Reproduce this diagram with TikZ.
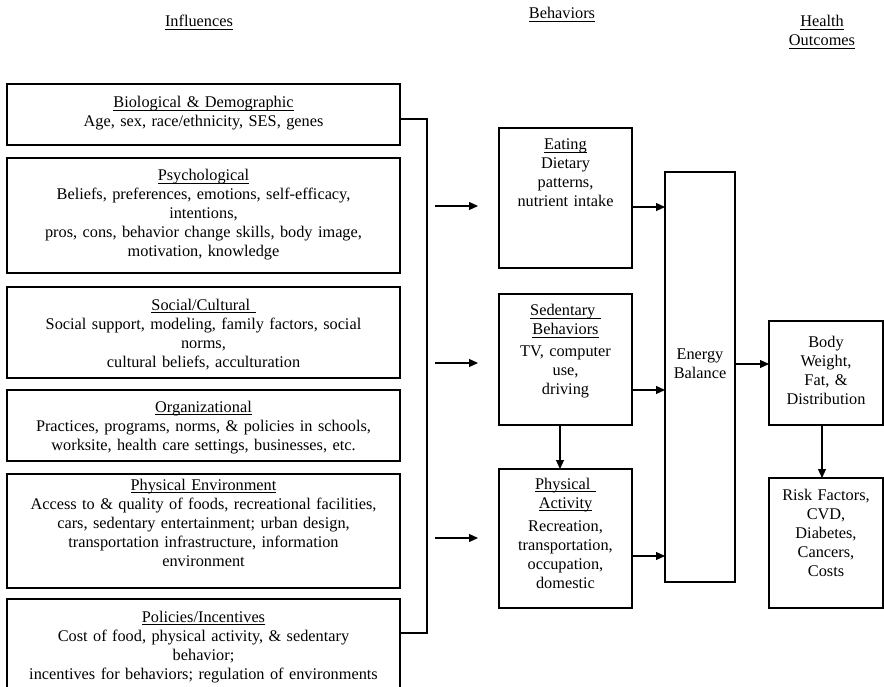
\documentclass[tikz,border=0pt]{standalone}
\usepackage{fontspec}
\setmainfont{Liberation Serif}
\usetikzlibrary{arrows.meta}
\newcommand\myul[1]{\leavevmode\setbox0\hbox{#1}\rlap{\rule[-2.6pt]{\wd0}{0.9pt}}\box0}
\newcommand\fsz{\fontsize{16.3}{19}\selectfont}
\begin{document}
\begin{tikzpicture}[x=1pt,y=-1pt,
  box/.style={draw, line width=1.2pt, rectangle, inner sep=0pt, outer sep=0pt},
  txt/.style={font=\fsz, align=center, anchor=base, inner sep=0pt, text width=#1},
  txt/.default=380pt,
  arr/.style={line width=1.2pt, -{Triangle[length=9pt,width=8pt]}},
  lnk/.style={line width=1.2pt}]
\useasboundingbox (0,0) rectangle (884,687);

% headers
\node[txt=200pt] (hinf) at (199,27) {\myul{Influences}};
\node[txt=200pt] (hbeh) at (562,19) {\myul{Behaviors}};
\node[txt=100pt] (hhe) at (822,27) {\myul{Health}\\\myul{Outcomes}};

% influences
\node[box, minimum width=393pt, minimum height=61pt] (bio) at (203.5,114.5) {};
\node[txt] (biot) at (203.5,108) {\myul{Biological \& Demographic}\\Age, sex, race/ethnicity, SES, genes};

\node[box, minimum width=393pt, minimum height=115pt] (psy) at (203.5,215.5) {};
\node[txt] (psyt) at (203.5,181) {\myul{Psychological}\\Beliefs, preferences, emotions, self-efficacy,\\intentions,\\pros, cons, behavior change skills, body image,\\motivation, knowledge};

\node[box, minimum width=393pt, minimum height=91pt] (soc) at (203.5,332.5) {};
\node[txt] (soct) at (203.5,310) {\myul{Social/Cultural\ }\\Social support, modeling, family factors, social\\norms,\\cultural beliefs, acculturation};

\node[box, minimum width=393pt, minimum height=71pt] (org) at (203.5,425.5) {};
\node[txt] (orgt) at (203.5,412) {\myul{Organizational}\\Practices, programs, norms, \& policies in schools,\\worksite, health care settings, businesses, etc.};

\node[box, minimum width=393pt, minimum height=114pt] (env) at (203.5,531) {};
\node[txt] (envt) at (203.5,490) {\myul{Physical Environment}\\Access to \& quality of foods, recreational facilities,\\cars, sedentary entertainment; urban design,\\transportation infrastructure, information\\environment};

\node[box, minimum width=393pt, minimum height=111pt] (pol) at (203.5,654.5) {};
\node[txt] (polt) at (203.5,622) {\myul{Policies/Incentives}\\Cost of food, physical activity, \& sedentary\\behavior;\\incentives for behaviors; regulation of environments};

% behaviors
\node[box, minimum width=133pt, minimum height=140pt] (eat) at (565.5,198) {};
\node[txt=130pt] (eatt) at (565.5,150) {\myul{Eating}\\Dietary\\patterns,\\nutrient intake};

\node[box, minimum width=133pt, minimum height=131pt] (sed) at (565.5,359.5) {};
\node[txt=130pt] (sedt) at (565.5,316) {\myul{Sedentary\ }\\\myul{Behaviors}\\[3pt]TV, computer\\use,\\driving};

\node[box, minimum width=133pt, minimum height=139pt] (pa) at (565.5,538.5) {};
\node[txt=130pt] (pat) at (565.5,489) {\myul{Physical\ }\\\myul{Activity}\\[4pt]Recreation,\\transportation,\\occupation,\\domestic};

\node[box, minimum width=70pt, minimum height=410pt] (en) at (700,377) {};
\node[txt=68pt] (ent) at (700,359) {Energy\\Balance};

% outcomes
\node[box, minimum width=114pt, minimum height=104pt] (body) at (826,373) {};
\node[txt=110pt] (bodyt) at (826,347) {Body\\Weight,\\Fat, \&\\Distribution};

\node[box, minimum width=114pt, minimum height=130pt] (risk) at (826,543) {};
\node[txt=110pt] (riskt) at (826,500) {Risk Factors,\\CVD,\\Diabetes,\\Cancers,\\Costs};

% bracket
\coordinate (bt) at (427,119);
\coordinate (bb) at (427,633);
\draw[lnk] (bio.east |- bt) -- (bt) -- (bb) -- (pol.east |- bb);

% influence arrows
\coordinate (a1s) at (435,206); \coordinate (a1e) at (478,206);
\coordinate (a2s) at (435,363); \coordinate (a2e) at (478,363);
\coordinate (a3s) at (435,538); \coordinate (a3e) at (478,538);
\draw[arr] (a1s) -- (a1e);
\draw[arr] (a2s) -- (a2e);
\draw[arr] (a3s) -- (a3e);

% behavior to energy
\coordinate (y1) at (0,207);
\coordinate (y2) at (0,390);
\coordinate (y3) at (0,556);
\coordinate (y4) at (0,364);
\draw[arr] (eat.east |- y1) -- (en.west |- y1);
\draw[arr] (sed.east |- y2) -- (en.west |- y2);
\draw[arr] (pa.east |- y3) -- (en.west |- y3);
\draw[arr] (en.east |- y4) -- (body.west |- y4);

\coordinate (x1) at (560,0);
\coordinate (x2) at (822,0);
\draw[arr] (sed.south -| x1) -- (pa.north -| x1);
\draw[arr] (body.south -| x2) -- (risk.north -| x2);
\end{tikzpicture}
\end{document}
